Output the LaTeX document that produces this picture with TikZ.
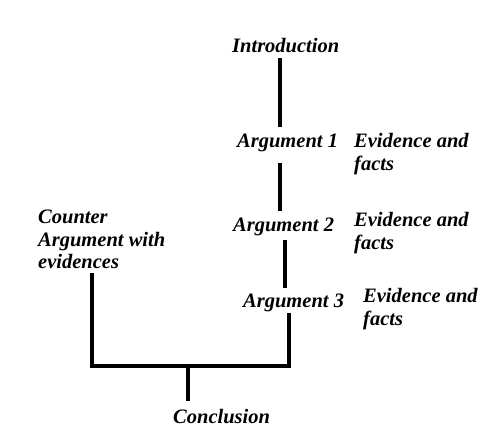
\documentclass[tikz,border=0pt]{standalone}
\usepackage{fontspec}
\setmainfont{Liberation Serif}
\begin{document}
\begin{tikzpicture}[x=1pt,y=-1pt,
  lbl/.style={anchor=base west,inner sep=0pt,align=left,
    font=\fontsize{20.5}{22.5}\selectfont\bfseries\itshape},
  bar/.style={line width=4.5pt}]
\useasboundingbox[fill=white] (0,0) rectangle (498,438);
\node[lbl] (intro) at (232,53) {Introduction};
\node[lbl] (a1) at (237,148) {Argument 1};
\node[lbl] (e1) at (354,170.5) {Evidence and\\facts};
\node[lbl] (a2) at (233,232) {Argument 2};
\node[lbl] (e2) at (354,249.5) {Evidence and\\facts};
\node[lbl] (a3) at (243,308) {Argument 3};
\node[lbl] (e3) at (363,325.5) {Evidence and\\facts};
\node[lbl] (ca) at (38,269) {Counter\\Argument with\\evidences};
\node[lbl] (concl) at (173,423) {Conclusion};
\coordinate (p1a) at (280,58);
\coordinate (p1b) at (280,127);
\coordinate (p2a) at (280,163);
\coordinate (p2b) at (280,211);
\coordinate (p3a) at (285,240);
\coordinate (p3b) at (285,288);
\coordinate (p4a) at (289,313);
\coordinate (cta) at (92,273);
\coordinate (jl) at (90,366);
\coordinate (jr) at (291.25,366);
\coordinate (jm) at (188,366);
\coordinate (cb) at (188,401);
\draw[bar] (p1a) -- (p1b);
\draw[bar] (p2a) -- (p2b);
\draw[bar] (p3a) -- (p3b);
\draw[bar] (p4a) -- (289,366);
\draw[bar] (cta) -- (92,366);
\draw[bar] (jl) -- (jr);
\draw[bar] (jm) -- (cb);
\end{tikzpicture}
\end{document}
